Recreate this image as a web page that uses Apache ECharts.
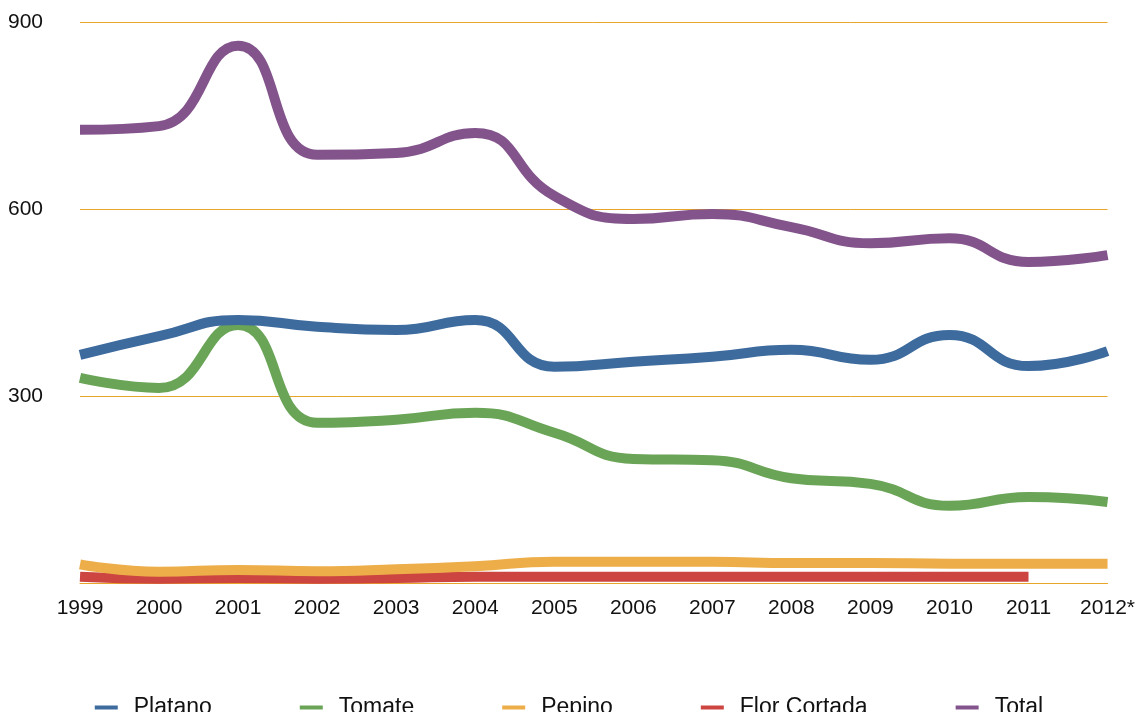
<!DOCTYPE html>
<html>
<head>
<meta charset="utf-8">
<script src="https://cdn.jsdelivr.net/npm/echarts@6/dist/echarts.min.js"></script>
<style>
    html, body {
        margin: 0;
        padding: 0;
        background: #ffffff;
    }
    #chart {
        width: 1138px;
        height: 712px;
    }
</style>
</head>
<body>
<div id="chart"></div>
<script>
// 年份
const years = ['1999', '2000', '2001', '2002', '2003', '2004', '2005', '2006', '2007', '2008', '2009', '2010', '2011', '2012*']
const yTicks = [0, 300, 600, 900]

// 各系列数值
const platano = [366, 396, 422, 411, 406, 422, 347, 355, 363, 374, 358, 398, 348, 372]
const tomate = [329, 313, 414, 257, 262, 273, 241, 199, 197, 168, 159, 124, 138, 130]
const pepino = [30, 18, 21, 19, 22, 27, 34, 34, 34, 32, 32, 31, 31, 31]
const florCortada = [10, 7, 8, 7, 8, 10, 10, 10, 10, 10, 10, 10, 10, null]
const total = [727, 733, 862, 687, 690, 722, 621, 584, 592, 571, 545, 553, 515, 526]

const gridColor = '#E9A52A'
const font = 'Liberation Sans, Helvetica, Arial, sans-serif'

function lineSeries(name, data, color, z) {
    return {
        name: name,
        type: 'line',
        data: data,
        smooth: 0.5,
        symbol: 'none',
        z: z,
        color: color,
        lineStyle: {
            color: color,
            width: 10,
            cap: 'butt'
        }
    }
}

const chart = echarts.init(document.getElementById('chart'))
const option = {
    animation: false,
    backgroundColor: '#ffffff',
    grid: {
        left: 80,
        right: 28,
        top: 22,
        bottom: 129
    },
    legend: {
        top: 691,
        left: 'center',
        icon: 'rect',
        itemWidth: 23,
        itemHeight: 4,
        itemGap: 88,
        textStyle: {
            fontFamily: font,
            fontSize: 23,
            color: '#111',
            padding: [0, 0, 0, 11]
        },
        data: ['Platano', 'Tomate', 'Pepino', 'Flor Cortada', 'Total']
    },
    xAxis: {
        type: 'category',
        data: years,
        boundaryGap: false,
        axisLine: {
            show: true,
            lineStyle: { color: gridColor, width: 1 }
        },
        axisTick: { show: false },
        axisLabel: {
            fontFamily: font,
            fontSize: 21,
            color: '#111',
            margin: 15
        }
    },
    yAxis: {
        type: 'value',
        min: yTicks[0],
        max: yTicks[yTicks.length - 1],
        interval: 300,
        axisLine: { show: false },
        axisTick: { show: false },
        splitLine: {
            lineStyle: { color: gridColor, width: 1 }
        },
        axisLabel: {
            fontFamily: font,
            fontSize: 21,
            color: '#111',
            margin: 37,
            showMinLabel: false
        }
    },
    series: [
        lineSeries('Platano', platano, '#3D6B9E', 5),
        lineSeries('Tomate', tomate, '#6AA457', 4),
        lineSeries('Pepino', pepino, '#EDAE49', 3),
        lineSeries('Flor Cortada', florCortada, '#CC4541', 2),
        lineSeries('Total', total, '#83548C', 6)
    ]
}
chart.setOption(option)
</script>
</body>
</html>
